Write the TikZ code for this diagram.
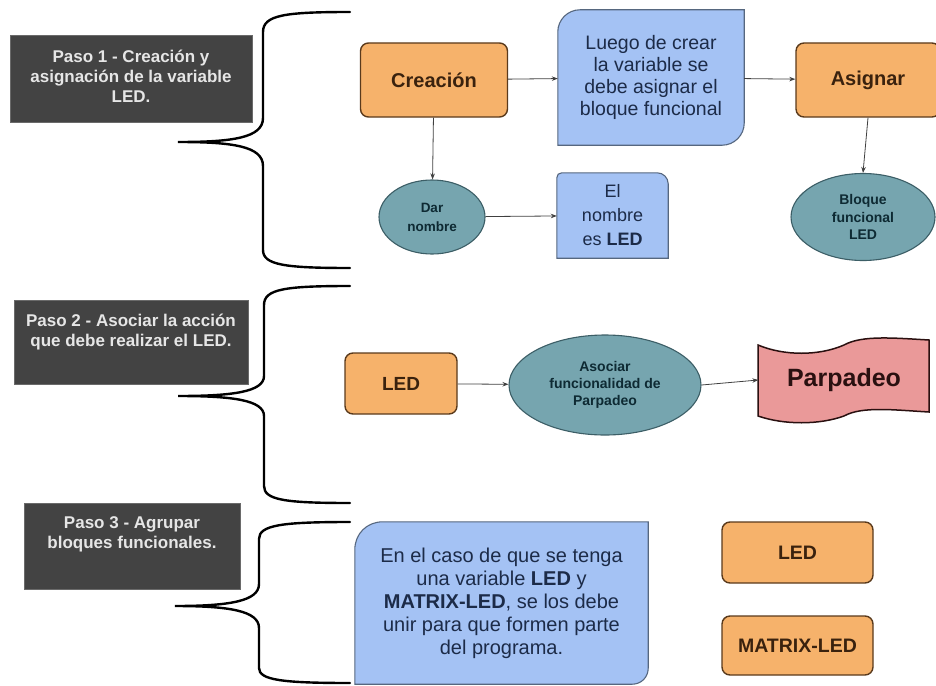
\documentclass[tikz,border=0pt]{standalone}
\usepackage{fontspec}
\setmainfont{Liberation Sans}
\usetikzlibrary{shapes.geometric,arrows.meta,calc,backgrounds}

\definecolor{cOrFill}{HTML}{F6B26B}
\definecolor{cOrDraw}{HTML}{5A3A1C}
\definecolor{cOrText}{HTML}{3A220E}
\definecolor{cBlFill}{HTML}{A4C2F4}
\definecolor{cBlDraw}{HTML}{56677F}
\definecolor{cBlText}{HTML}{1C2B48}
\definecolor{cElFill}{HTML}{76A5AF}
\definecolor{cElDraw}{HTML}{3C5E66}
\definecolor{cElText}{HTML}{0E2A33}
\definecolor{cRdFill}{HTML}{EA9999}
\definecolor{cRdDraw}{HTML}{2A1010}
\definecolor{cPasoFill}{HTML}{434343}
\definecolor{cPasoDraw}{HTML}{6A6A6A}
\definecolor{cPasoText}{HTML}{E6E6E6}
\definecolor{cArrow}{HTML}{404040}

\begin{document}
\begin{tikzpicture}[x=1pt,y=-1pt,
  orangebox/.style={rectangle, rounded corners=8pt, fill=cOrFill, draw=cOrDraw,
    line width=1.4pt, inner sep=0pt, text=cOrText,
    font=\bfseries\fontsize{20}{24}\selectfont},
  bluearea/.style={rectangle, inner sep=0pt, align=center, text=cBlText},
  blueshape/.style={fill=cBlFill, draw=cBlDraw, line width=1.1pt},
  oval/.style={ellipse, fill=cElFill, draw=cElDraw, line width=1.1pt,
    inner sep=0pt, align=center, text=cElText,
    font=\bfseries\fontsize{14}{17}\selectfont},
  wavetag/.style={fill=cRdFill, draw=cRdDraw, line width=1.5pt},
  pasobox/.style={rectangle, fill=cPasoFill, draw=cPasoDraw, line width=0.6pt,
    inner sep=0pt},
  pasolabel/.style={align=center, text=cPasoText, inner sep=0pt,
    font=\bfseries\fontsize{17}{20}\selectfont},
  flow/.style={draw=cArrow, line width=0.8pt, -{Stealth[length=6pt,width=4.5pt]}},
  bracket/.style={draw=black, line width=2.4pt, line cap=round}
]
\useasboundingbox (0,0) rectangle (936,685);
\clip (0,0) rectangle (936,685);

% ---------- step labels ----------
\node[pasobox, minimum width=242pt, minimum height=87pt] (p1) at (131,78.5) {};
\node[pasolabel] (p1t) at (131,76) {Paso 1 - Creación y\\asignación de la variable\\LED.};
\node[pasobox, minimum width=234pt, minimum height=84pt] (p2) at (131,342) {};
\node[pasolabel] (p2t) at (131,332) {Paso 2 - Asociar la acción\\que debe realizar el LED.};
\node[pasobox, minimum width=216pt, minimum height=86pt] (p3) at (132,546) {};
\node[pasolabel] (p3t) at (132,534) {Paso 3 - Agrupar\\bloques funcionales.};

% ---------- curly brackets ----------
\draw[bracket] (350,12) .. controls (285,12) and (263,15) .. (263,32) -- (263,118)
  .. controls (263,138) and (232,142) .. (178,142)
  .. controls (232,142) and (263,146) .. (263,166) -- (263,250)
  .. controls (263,265) and (285,268) .. (350,268);
\draw[bracket] (350,286) .. controls (285,286) and (264,289) .. (264,305) -- (264,376)
  .. controls (264,392) and (232,396) .. (178,396)
  .. controls (232,396) and (264,400) .. (264,416) -- (264,486)
  .. controls (264,500) and (285,503) .. (350,503);
\draw[bracket] (350,522) .. controls (282,522) and (259,525) .. (259,539) -- (259,584)
  .. controls (259,601) and (230,606) .. (175,606)
  .. controls (230,606) and (259,611) .. (259,628) -- (259,668)
  .. controls (259,680) and (282,683) .. (350,683);

% ---------- step 1 ----------
\node[orangebox, minimum width=147pt, minimum height=74pt] (crea) at (434,80) {Creación};
\node[bluearea, minimum width=186pt, minimum height=135pt,
  font=\fontsize{19.5}{22}\selectfont] (luego) at (651,77.5)
  {Luego de crear\\la variable se\\debe asignar el\\bloque funcional};
\node[orangebox, minimum width=144pt, minimum height=74pt] (asig) at (868,80) {Asignar};
\node[oval, minimum width=106pt, minimum height=74pt,
  font=\bfseries\fontsize{13.5}{19}\selectfont] (dar) at (432,217) {Dar\\nombre};
\node[bluearea, minimum width=111pt, minimum height=85pt,
  font=\fontsize{18}{24}\selectfont] (nom) at (612.5,215.5)
  {El\\nombre\\es \textbf{LED}};
\node[oval, minimum width=144pt, minimum height=87pt,
  font=\bfseries\fontsize{14}{17.5}\selectfont] (bloq) at (863,217)
  {Bloque\\funcional\\LED};

\begin{scope}[on background layer]
  \path[blueshape] (luego.south west) -- ([yshift=-22pt]luego.north west)
    .. controls ([yshift=-10pt]luego.north west) and ([xshift=10pt]luego.north west)
    .. ([xshift=22pt]luego.north west)
    -- (luego.north east) -- ([yshift=22pt]luego.south east)
    .. controls ([yshift=10pt]luego.south east) and ([xshift=-10pt]luego.south east)
    .. ([xshift=-22pt]luego.south east) -- cycle;
  \path[blueshape] (nom.south west) -- ([yshift=-5pt]nom.north west)
    .. controls ([yshift=-2pt]nom.north west) and ([xshift=2pt]nom.north west)
    .. ([xshift=5pt]nom.north west)
    -- ([xshift=-11pt]nom.north east)
    .. controls ([xshift=-5pt]nom.north east) and ([yshift=-5pt]nom.north east)
    .. ([yshift=-11pt]nom.north east)
    -- (nom.south east) -- cycle;
\end{scope}

\draw[flow] (crea) -- (luego);
\draw[flow] (luego) -- (asig);
\draw[flow] (crea) -- (dar);
\draw[flow] (dar) -- (nom);
\draw[flow] (asig.south) -- (bloq.north);

% ---------- step 2 ----------
\node[orangebox, minimum width=112pt, minimum height=61pt,
  font=\bfseries\fontsize{19}{23}\selectfont] (led2) at (401,383.5) {LED};
\node[oval, minimum width=192pt, minimum height=100pt] (asoc) at (605,385)
  {Asociar\\funcionalidad de\\Parpadeo};
\node[inner sep=0pt, minimum width=171pt, minimum height=70pt, text=cRdDraw,
  font=\bfseries\fontsize{25}{30}\selectfont] (parp) at (844,380) {Parpadeo};
\begin{scope}[on background layer]
  \path[wavetag] ($(parp)+(-86,-35)$)
    .. controls ($(parp)+(-60,-24)$) and ($(parp)+(-25,-24)$) .. ($(parp)+(0,-35)$)
    .. controls ($(parp)+(18,-45)$) and ($(parp)+(50,-42)$) .. ($(parp)+(85,-40)$)
    -- ($(parp)+(85,32)$)
    .. controls ($(parp)+(50,30)$) and ($(parp)+(18,26)$) .. ($(parp)+(0,36)$)
    .. controls ($(parp)+(-25,45)$) and ($(parp)+(-60,45)$) .. ($(parp)+(-86,36)$)
    -- cycle;
\end{scope}
\draw[flow] (led2) -- (asoc);
\draw[flow] (asoc.east) -- (parp.west);

% ---------- step 3 ----------
\node[bluearea, minimum width=293pt, minimum height=162pt,
  font=\fontsize{20}{23}\selectfont] (caso) at (501.5,603)
  {En el caso de que se tenga\\una variable \textbf{LED} y\\\textbf{MATRIX-LED}, se los debe\\unir para que formen parte\\del programa.};
\begin{scope}[on background layer]
  \path[blueshape] (caso.south west) -- ([yshift=-28pt]caso.north west)
    .. controls ([yshift=-12pt]caso.north west) and ([xshift=12pt]caso.north west)
    .. ([xshift=28pt]caso.north west)
    -- (caso.north east) -- ([yshift=16pt]caso.south east)
    .. controls ([yshift=7pt]caso.south east) and ([xshift=-7pt]caso.south east)
    .. ([xshift=-16pt]caso.south east) -- cycle;
\end{scope}
\node[orangebox, minimum width=151pt, minimum height=61pt,
  font=\bfseries\fontsize{19.5}{23}\selectfont] (led3) at (797.5,552.5) {LED};
\node[orangebox, minimum width=151pt, minimum height=59pt,
  font=\bfseries\fontsize{19.5}{23}\selectfont] (matrix) at (797.5,645.5) {MATRIX-LED};
\end{tikzpicture}
\end{document}
